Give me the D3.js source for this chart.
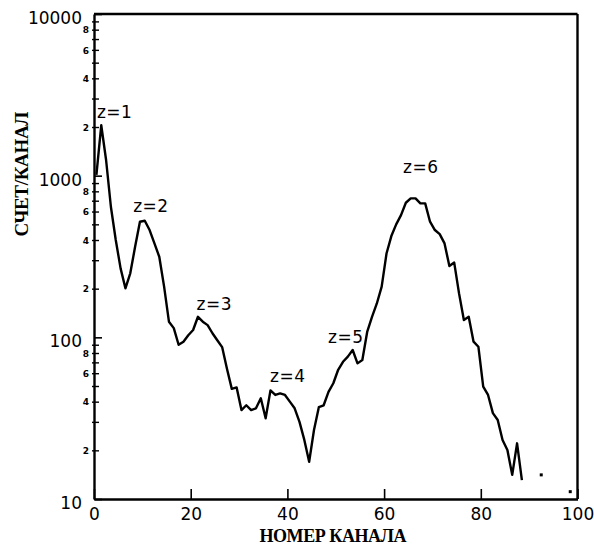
<!DOCTYPE html>
<html>
<head>
<meta charset="utf-8">
<script src="https://cdn.jsdelivr.net/npm/d3@7"></script>
<style>
  body { margin: 0; background: #fff; }
  svg { display: block; }
</style>
</head>
<body>
<div id="chart-container"></div>
<script>
// counts per channel, channel 0..98 (0 = empty channel, not drawn on log axis)
const channels = d3.range(0, 99);
const counts = [
  1010, 2050, 1250, 640, 400, 267, 201, 249, 363, 519,
  526, 461, 381, 315, 206, 125, 114, 90, 94, 103,
  111, 134, 125, 119, 106, 96, 87, 64, 48, 49,
  35.5, 38, 35.5, 36.4, 42, 31.6, 47, 44, 45, 44,
  40, 36.4, 30, 23.2, 17, 26.7, 37, 38, 46, 52,
  63, 70.6, 76, 83.5, 69, 72.4, 108, 134, 162, 206,
  330, 423, 500, 570, 680, 724, 724, 674, 674, 519,
  461, 435, 381, 276, 290, 187, 128, 134, 94, 87.5,
  49.5, 44, 34, 30.8, 23.2, 20.1, 14.1, 22.1, 13.1, 0,
  0, 0, 14.1, 0, 0, 0, 0, 0, 11.1
];

// peak labels: charge state and label anchor (channel, count at baseline)
const peakNames = ["z=1", "z=2", "z=3", "z=4", "z=5", "z=6"];
const peakChan = [0.6, 8.1, 21.2, 36.4, 48.4, 63.9];
const peakCount = [2270, 596, 147, 53, 92, 1040];

const xTicks = [0, 20, 40, 60, 80, 100];
const yMajor = [10, 100, 1000, 10000];
const yMinor = [2, 3, 4, 5, 6, 7, 8, 9].flatMap(m => [10, 100, 1000].map(d => m * d));

const width = 594, height = 546;
const margin = ({top: 14, right: 16.5, bottom: 47, left: 94});

const x = d3.scaleLinear().domain([0, 100]).range([margin.left, width - margin.right]);
const y = d3.scaleLog().domain([10, 10000]).range([height - margin.bottom, margin.top]);

const svg = d3.select("#chart-container")
    .append("svg")
    .attr("width", width)
    .attr("height", height);

svg.append("rect").attr("width", width).attr("height", height).attr("fill", "#fff");

// x axis, ticks pointing inward
const xAxis = g => g
    .attr("transform", `translate(0,${y(10)})`)
    .call(d3.axisBottom(x).tickValues(xTicks).tickSizeInner(-10).tickSizeOuter(0).tickPadding(6).tickFormat(d3.format("d")))
    .call(g => g.select(".domain").attr("stroke-width", 2.4))
    .call(g => g.selectAll(".tick line").attr("stroke-width", 1.6))
    .call(g => g.selectAll(".tick text")
        .attr("font-family", "DejaVu Sans").attr("font-size", 17).attr("fill", "#000")
        .attr("y", 21).attr("dy", 0));

// y axis, major decades
const yAxis = g => g
    .attr("transform", `translate(${x(0)},0)`)
    .call(d3.axisLeft(y).tickValues(yMajor).tickSizeInner(-8).tickSizeOuter(0).tickPadding(12).tickFormat(d3.format("d")))
    .call(g => g.select(".domain").attr("stroke-width", 2.4))
    .call(g => g.selectAll(".tick line").attr("stroke-width", 1.6))
    .call(g => g.selectAll(".tick text")
        .attr("font-family", "DejaVu Sans").attr("font-size", 17).attr("fill", "#000")
        .attr("dy", "0.55em"));

// y axis, minor ticks with small mantissa labels
const yMinorAxis = g => g
    .attr("transform", `translate(${x(0)},0)`)
    .call(d3.axisLeft(y).tickValues(yMinor).tickSizeInner(-5).tickSizeOuter(0).tickPadding(5)
        .tickFormat(d => { const m = Math.round(d / Math.pow(10, Math.floor(Math.log10(d)))); return m % 2 === 0 ? m : ""; }))
    .call(g => g.select(".domain").remove())
    .call(g => g.selectAll(".tick line").attr("x1", -2).attr("stroke-width", 1.4))
    .call(g => g.selectAll(".tick text")
        .attr("font-family", "DejaVu Sans").attr("font-weight", "bold").attr("font-size", 9).attr("fill", "#000")
        .attr("dy", "0.35em"));

svg.append("g").call(yMinorAxis);
svg.append("g").call(yAxis);
svg.append("g").call(xAxis);

// top and right frame
svg.append("line")
    .attr("x1", x(0)).attr("x2", x(100)).attr("y1", y(10000)).attr("y2", y(10000))
    .attr("stroke", "#000").attr("stroke-width", 2.4);
svg.append("line")
    .attr("x1", x(100)).attr("x2", x(100)).attr("y1", y(10000)).attr("y2", y(10))
    .attr("stroke", "#000").attr("stroke-width", 2.4);

// spectrum, each channel plotted at its bin centre
const points = channels.map((c, i) => ({c, v: counts[i]}));
const line = d3.line()
    .defined(d => d.v > 0)
    .x(d => x(d.c + 0.5))
    .y(d => y(d.v));

svg.append("path")
    .datum(points)
    .attr("fill", "none")
    .attr("stroke", "#000")
    .attr("stroke-width", 2.4)
    .attr("stroke-linejoin", "round")
    .attr("d", line);

// isolated channels (no neighbours) as dots
const isolated = points.filter((d, i) => d.v > 0 && !(counts[i - 1] > 0) && !(counts[i + 1] > 0));
svg.append("g")
    .selectAll("rect")
    .data(isolated)
    .join("rect")
    .attr("x", d => x(d.c + 0.5) - 1.5)
    .attr("y", d => y(d.v) - 1.5)
    .attr("width", 3)
    .attr("height", 3)
    .attr("fill", "#000");

// peak labels
svg.append("g")
    .selectAll("text")
    .data(peakNames)
    .join("text")
    .attr("x", (d, i) => x(peakChan[i]))
    .attr("y", (d, i) => y(peakCount[i]))
    .attr("font-family", "DejaVu Sans")
    .attr("font-size", 17)
    .attr("textLength", 35)
    .attr("fill", "#000")
    .text(d => d);

// axis titles
svg.append("text")
    .attr("x", 333)
    .attr("y", 542)
    .attr("text-anchor", "middle")
    .attr("font-family", "Liberation Serif")
    .attr("font-weight", "bold")
    .attr("font-size", 18)
    .attr("textLength", 147)
    .attr("fill", "#000")
    .text("НОМЕР КАНАЛА");

svg.append("text")
    .attr("transform", "translate(28,174) rotate(-90)")
    .attr("text-anchor", "middle")
    .attr("font-family", "Liberation Serif")
    .attr("font-weight", "bold")
    .attr("font-size", 19)
    .attr("textLength", 125)
    .attr("fill", "#000")
    .text("СЧЕТ/КАНАЛ");
</script>
</body>
</html>
